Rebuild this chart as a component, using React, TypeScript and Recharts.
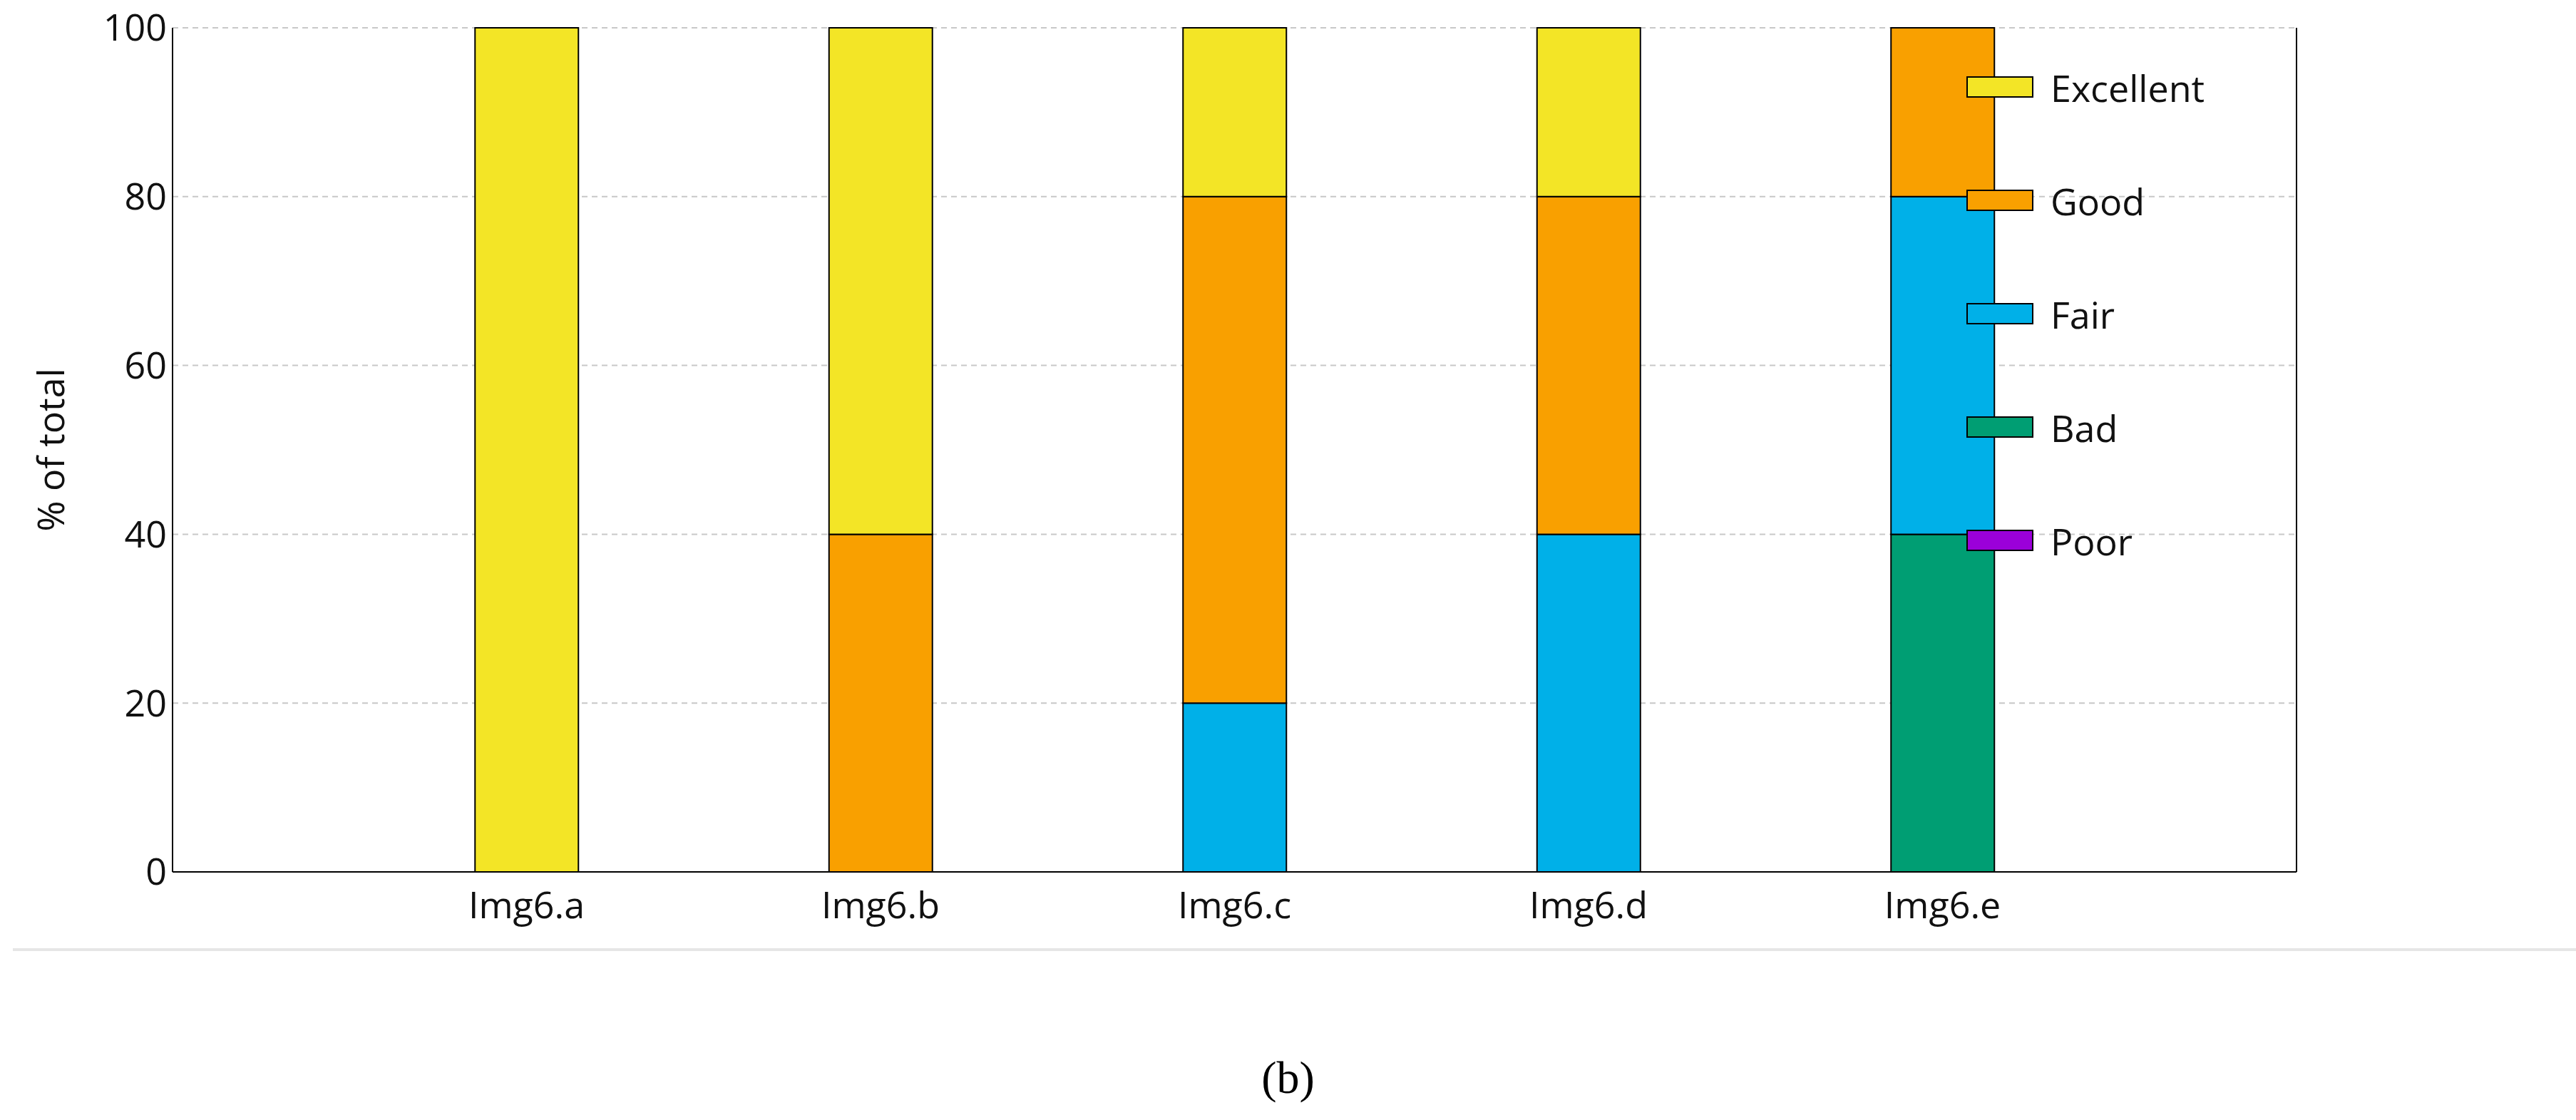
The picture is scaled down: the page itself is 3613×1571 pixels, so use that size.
import { BarChart, Bar, XAxis, YAxis, CartesianGrid } from 'recharts'

const categories = ['Img6.a', 'Img6.b', 'Img6.c', 'Img6.d', 'Img6.e']
const poor = [0, 0, 0, 0, 0]
const bad = [0, 0, 0, 0, 40]
const fair = [0, 0, 20, 40, 40]
const good = [0, 40, 60, 40, 20]
const excellent = [100, 60, 20, 20, 0]
const yTicks = [0, 20, 40, 60, 80, 100]

const series = [
  { key: 'Poor', values: poor, color: '#9B00D9' },
  { key: 'Bad', values: bad, color: '#009E73' },
  { key: 'Fair', values: fair, color: '#00B0E8' },
  { key: 'Good', values: good, color: '#F9A000' },
  { key: 'Excellent', values: excellent, color: '#F3E526' },
]

const data = categories.map((c, i) => {
  const row: Record<string, any> = { x: i + 1, name: c }
  series.forEach((s) => (row[s.key] = s.values[i]))
  return row
})

const font = '"Open Sans", "Noto Sans", sans-serif'

export default function App() {
  const legend = [...series].reverse()
  return (
    <div style={{ position: 'absolute', left: 0, top: 0, width: 3613, height: 1571, background: '#fff', fontFamily: font }}>
      <BarChart
        width={3613}
        height={1571}
        data={data}
        margin={{ top: 39, right: 392, left: 142, bottom: 248 }}
      >
        <CartesianGrid yAxisId="l" vertical={false} strokeDasharray="8 6" stroke="#c8c8c8" strokeWidth={2} />
        <XAxis
          type="number"
          dataKey="x"
          domain={[0, 6]}
          ticks={[1, 2, 3, 4, 5]}
          tickFormatter={(v: number) => categories[v - 1] ?? ''}
          height={100}
          tickLine={false}
          axisLine={{ stroke: '#000', strokeWidth: 2 }}
          tick={{ fontSize: 52, fill: '#111', fontFamily: font, dy: 20 }}
        />
        <YAxis
          yAxisId="l"
          domain={[0, 100]}
          ticks={yTicks}
          width={100}
          tickLine={false}
          axisLine={{ stroke: '#000', strokeWidth: 2 }}
          tick={{ fontSize: 52, fill: '#111', fontFamily: font }}
          label={{ value: '% of total', angle: -90, position: 'insideLeft', offset: -70, style: { fontSize: 52, fill: '#111', fontFamily: font, textAnchor: 'middle' } }}
        />
        <YAxis
          yAxisId="r"
          orientation="right"
          domain={[0, 100]}
          ticks={yTicks}
          width={60}
          mirror
          tickSize={16}
          tickLine={{ stroke: '#000', strokeWidth: 2 }}
          axisLine={{ stroke: '#000', strokeWidth: 2 }}
          tick={{ fontSize: 1, fill: 'transparent' }}
        />
        {series.map((s) => (
          <Bar
            key={s.key}
            yAxisId="l"
            dataKey={s.key}
            stackId="a"
            fill={s.color}
            stroke="#000"
            strokeWidth={2}
            barSize={145}
            isAnimationActive={false}
          />
        ))}
      </BarChart>
      {legend.map((s, i) => (
        <div key={s.key} style={{ position: 'absolute', left: 2758, top: 122 + i * 159 - 35, height: 70, display: 'flex', alignItems: 'center' }}>
          <div style={{ width: 94, height: 30, background: s.color, border: '2px solid #000', boxSizing: 'border-box' }} />
          <span style={{ marginLeft: 24, fontSize: 52, color: '#111' }}>{s.key}</span>
        </div>
      ))}
      <div style={{ position: 'absolute', left: 18, top: 1330, width: 3595, height: 4, background: '#e6e6e6' }} />
      <div style={{ position: 'absolute', left: 0, width: 3613, top: 1475, textAlign: 'center', fontSize: 64, fontFamily: '"Liberation Serif", serif', color: '#000' }}>(b)</div>
    </div>
  )
}
